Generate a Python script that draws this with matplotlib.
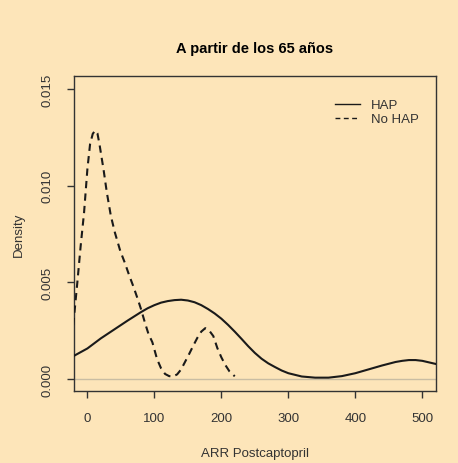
import matplotlib.pyplot as plt
import numpy as np

plt.rcParams['font.family'] = ['Liberation Sans', 'DejaVu Sans']

# density curves
hap_x = [-40, -20, 0, 20, 40, 60, 80, 90, 100, 110, 120, 130, 140, 150, 160, 170, 180, 190,
         200, 210, 220, 230, 240, 250, 260, 270, 280, 290, 300, 320, 340, 360, 380, 400,
         420, 440, 460, 470, 480, 490, 500, 520, 540]
hap_y = [0.00088, 0.00120, 0.00158, 0.00210, 0.00256, 0.00302, 0.00346, 0.00366, 0.00382,
         0.00395, 0.00403, 0.00408, 0.00410, 0.00406, 0.00397, 0.00382, 0.00362, 0.00339,
         0.00312, 0.00280, 0.00245, 0.00208, 0.00170, 0.00135, 0.00105, 0.00081, 0.00062,
         0.00044, 0.00030, 0.00013, 0.00007, 0.00007, 0.00015, 0.00030, 0.00050, 0.00070,
         0.00088, 0.00094, 0.00098, 0.00098, 0.00094, 0.00078, 0.00058]

nohap_x = [-25, -20, -15, -10, -5, 0, 4, 8, 11.5, 15, 18, 21, 24, 29, 35, 41, 49, 56, 62,
           69, 75, 80, 86, 91, 97, 104, 110, 116, 122, 128, 134, 140, 146, 152, 158, 164,
           170, 176, 182, 188, 194, 200, 206, 212, 220]
nohap_y = [0.0015, 0.0032, 0.0050, 0.0069, 0.0086, 0.01086, 0.01215, 0.01268, 0.01285,
           0.01270, 0.01215, 0.01150, 0.01086, 0.00965, 0.00844, 0.00758, 0.00663, 0.00600,
           0.00540, 0.00475, 0.00415, 0.00362, 0.00290, 0.00235, 0.00190, 0.00103, 0.00055,
           0.00026, 0.00015, 0.00013, 0.00024, 0.00050, 0.00090, 0.00130, 0.00172, 0.00212,
           0.00245, 0.00263, 0.00250, 0.00222, 0.00160, 0.00112, 0.00072, 0.00040, 0.00014]

bg = '#fde5b9'
fig = plt.figure(figsize=(4.58, 4.64), dpi=100, facecolor=bg)
ax = fig.add_axes([74 / 458, 1 - 392 / 464, (435.7 - 74) / 458, (392 - 77) / 464])
ax.set_facecolor(bg)

ax.axhline(0, color='#c9bda3', lw=1, zorder=1)
ax.plot(hap_x, hap_y, color='#1a1a1a', lw=1.5, label='HAP', zorder=3)
ax.plot(nohap_x, nohap_y, color='#1a1a1a', lw=1.5, ls=(0, (3.5, 2.5)), label='No HAP', zorder=3)

ax.set_xlim(-20, 520)
ax.set_ylim(-0.00062, 0.01567)
ax.set_xticks([0, 100, 200, 300, 400, 500])
ax.set_yticks([0.0, 0.005, 0.010, 0.015])
ax.set_yticklabels(['0.000', '0.005', '0.010', '0.015'], rotation=90, va='center')

for s in ax.spines.values():
    s.set_color('#333333')
    s.set_linewidth(1)
ax.tick_params(direction='out', length=5, width=1, color='#333333',
               labelsize=9.5, labelcolor='#333333', pad=10)

ax.set_title('A partir de los 65 años', fontsize=10.5, fontweight='bold', pad=17)
ax.set_xlabel('ARR Postcaptopril', fontsize=9.5, color='#333333', labelpad=17)
ax.set_ylabel('Density', fontsize=9.5, color='#333333', labelpad=12)

leg = ax.legend(loc='upper right', bbox_to_anchor=(0.985, 0.965), frameon=False, fontsize=9.5,
                handlelength=1.9, labelspacing=0.15, handletextpad=0.8)
for h in leg.get_lines():
    h.set_linewidth(1)
for t in leg.get_texts():
    t.set_color('#333333')

fig.savefig('out.png', dpi=100, facecolor=bg)
